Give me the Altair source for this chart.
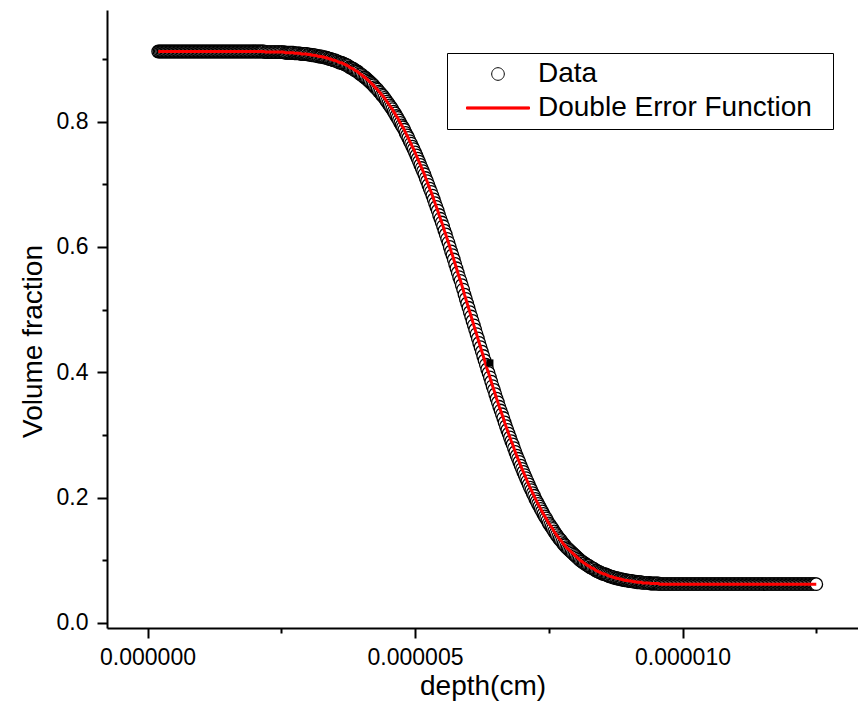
import altair as alt
import pandas as pd

# depth values in micro-units (x 1e-6 cm)
depth_um = [
    0.2, 0.225, 0.25, 0.275, 0.3, 0.325, 0.35, 0.375,
    0.4, 0.425, 0.45, 0.475, 0.5, 0.525, 0.55, 0.575,
    0.6, 0.625, 0.65, 0.675, 0.7, 0.725, 0.75, 0.775,
    0.8, 0.825, 0.85, 0.875, 0.9, 0.925, 0.95, 0.975,
    1.0, 1.025, 1.05, 1.075, 1.1, 1.125, 1.15, 1.175,
    1.2, 1.225, 1.25, 1.275, 1.3, 1.325, 1.35, 1.375,
    1.4, 1.425, 1.45, 1.475, 1.5, 1.525, 1.55, 1.575,
    1.6, 1.625, 1.65, 1.675, 1.7, 1.725, 1.75, 1.775,
    1.8, 1.825, 1.85, 1.875, 1.9, 1.925, 1.95, 1.975,
    2.0, 2.025, 2.05, 2.075, 2.1, 2.125, 2.15, 2.175,
    2.2, 2.225, 2.25, 2.275, 2.3, 2.325, 2.35, 2.375,
    2.4, 2.425, 2.45, 2.475, 2.5, 2.525, 2.55, 2.575,
    2.6, 2.625, 2.65, 2.675, 2.7, 2.725, 2.75, 2.775,
    2.8, 2.825, 2.85, 2.875, 2.9, 2.925, 2.95, 2.975,
    3.0, 3.025, 3.05, 3.075, 3.1, 3.125, 3.15, 3.175,
    3.2, 3.225, 3.25, 3.275, 3.3, 3.325, 3.35, 3.375,
    3.4, 3.425, 3.45, 3.475, 3.5, 3.525, 3.55, 3.575,
    3.6, 3.625, 3.65, 3.675, 3.7, 3.725, 3.75, 3.775,
    3.8, 3.825, 3.85, 3.875, 3.9, 3.925, 3.95, 3.975,
    4.0, 4.025, 4.05, 4.075, 4.1, 4.125, 4.15, 4.175,
    4.2, 4.225, 4.25, 4.275, 4.3, 4.325, 4.35, 4.375,
    4.4, 4.425, 4.45, 4.475, 4.5, 4.525, 4.55, 4.575,
    4.6, 4.625, 4.65, 4.675, 4.7, 4.725, 4.75, 4.775,
    4.8, 4.825, 4.85, 4.875, 4.9, 4.925, 4.95, 4.975,
    5.0, 5.025, 5.05, 5.075, 5.1, 5.125, 5.15, 5.175,
    5.2, 5.225, 5.25, 5.275, 5.3, 5.325, 5.35, 5.375,
    5.4, 5.425, 5.45, 5.475, 5.5, 5.525, 5.55, 5.575,
    5.6, 5.625, 5.65, 5.675, 5.7, 5.725, 5.75, 5.775,
    5.8, 5.825, 5.85, 5.875, 5.9, 5.925, 5.95, 5.975,
    6.0, 6.025, 6.05, 6.075, 6.1, 6.125, 6.15, 6.175,
    6.2, 6.225, 6.25, 6.275, 6.3, 6.325, 6.35, 6.375,
    6.4, 6.425, 6.45, 6.475, 6.5, 6.525, 6.55, 6.575,
    6.6, 6.625, 6.65, 6.675, 6.7, 6.725, 6.75, 6.775,
    6.8, 6.825, 6.85, 6.875, 6.9, 6.925, 6.95, 6.975,
    7.0, 7.025, 7.05, 7.075, 7.1, 7.125, 7.15, 7.175,
    7.2, 7.225, 7.25, 7.275, 7.3, 7.325, 7.35, 7.375,
    7.4, 7.425, 7.45, 7.475, 7.5, 7.525, 7.55, 7.575,
    7.6, 7.625, 7.65, 7.675, 7.7, 7.725, 7.75, 7.775,
    7.8, 7.825, 7.85, 7.875, 7.9, 7.925, 7.95, 7.975,
    8.0, 8.025, 8.05, 8.075, 8.1, 8.125, 8.15, 8.175,
    8.2, 8.225, 8.25, 8.275, 8.3, 8.325, 8.35, 8.375,
    8.4, 8.425, 8.45, 8.475, 8.5, 8.525, 8.55, 8.575,
    8.6, 8.625, 8.65, 8.675, 8.7, 8.725, 8.75, 8.775,
    8.8, 8.825, 8.85, 8.875, 8.9, 8.925, 8.95, 8.975,
    9.0, 9.025, 9.05, 9.075, 9.1, 9.125, 9.15, 9.175,
    9.2, 9.225, 9.25, 9.275, 9.3, 9.325, 9.35, 9.375,
    9.4, 9.425, 9.45, 9.475, 9.5, 9.525, 9.55, 9.575,
    9.6, 9.625, 9.65, 9.675, 9.7, 9.725, 9.75, 9.775,
    9.8, 9.825, 9.85, 9.875, 9.9, 9.925, 9.95, 9.975,
    10.0, 10.025, 10.05, 10.075, 10.1, 10.125, 10.15, 10.175,
    10.2, 10.225, 10.25, 10.275, 10.3, 10.325, 10.35, 10.375,
    10.4, 10.425, 10.45, 10.475, 10.5, 10.525, 10.55, 10.575,
    10.6, 10.625, 10.65, 10.675, 10.7, 10.725, 10.75, 10.775,
    10.8, 10.825, 10.85, 10.875, 10.9, 10.925, 10.95, 10.975,
    11.0, 11.025, 11.05, 11.075, 11.1, 11.125, 11.15, 11.175,
    11.2, 11.225, 11.25, 11.275, 11.3, 11.325, 11.35, 11.375,
    11.4, 11.425, 11.45, 11.475, 11.5, 11.525, 11.55, 11.575,
    11.6, 11.625, 11.65, 11.675, 11.7, 11.725, 11.75, 11.775,
    11.8, 11.825, 11.85, 11.875, 11.9, 11.925, 11.95, 11.975,
    12.0, 12.025, 12.05, 12.075, 12.1, 12.125, 12.15, 12.175,
    12.2, 12.225, 12.25, 12.275, 12.3, 12.325, 12.35, 12.375,
    12.4, 12.425, 12.45, 12.475, 12.5,
]
volume_fraction = [
    0.912, 0.912, 0.912, 0.912, 0.912, 0.912, 0.912, 0.912,
    0.912, 0.912, 0.912, 0.912, 0.912, 0.912, 0.912, 0.912,
    0.912, 0.912, 0.912, 0.912, 0.912, 0.912, 0.912, 0.912,
    0.912, 0.912, 0.912, 0.912, 0.912, 0.912, 0.912, 0.912,
    0.912, 0.912, 0.912, 0.912, 0.912, 0.912, 0.912, 0.912,
    0.912, 0.912, 0.912, 0.912, 0.912, 0.912, 0.912, 0.912,
    0.912, 0.912, 0.912, 0.912, 0.912, 0.912, 0.912, 0.912,
    0.912, 0.912, 0.912, 0.912, 0.912, 0.912, 0.912, 0.912,
    0.912, 0.912, 0.912, 0.912, 0.912, 0.912, 0.912, 0.912,
    0.912, 0.912, 0.912, 0.912, 0.912, 0.912, 0.912, 0.912,
    0.911, 0.911, 0.911, 0.911, 0.911, 0.911, 0.911, 0.911,
    0.911, 0.911, 0.911, 0.911, 0.911, 0.911, 0.911, 0.910,
    0.910, 0.910, 0.910, 0.910, 0.910, 0.910, 0.909, 0.909,
    0.909, 0.909, 0.909, 0.908, 0.908, 0.908, 0.908, 0.908,
    0.907, 0.907, 0.907, 0.906, 0.906, 0.906, 0.905, 0.905,
    0.904, 0.904, 0.904, 0.903, 0.903, 0.902, 0.902, 0.901,
    0.900, 0.900, 0.899, 0.898, 0.898, 0.897, 0.896, 0.895,
    0.894, 0.894, 0.893, 0.892, 0.891, 0.890, 0.889, 0.887,
    0.886, 0.885, 0.884, 0.882, 0.881, 0.880, 0.878, 0.876,
    0.875, 0.873, 0.871, 0.870, 0.868, 0.866, 0.864, 0.862,
    0.860, 0.858, 0.855, 0.853, 0.851, 0.848, 0.846, 0.843,
    0.841, 0.838, 0.835, 0.832, 0.829, 0.826, 0.823, 0.820,
    0.816, 0.813, 0.809, 0.806, 0.802, 0.798, 0.794, 0.791,
    0.787, 0.782, 0.778, 0.774, 0.769, 0.765, 0.760, 0.756,
    0.751, 0.746, 0.741, 0.736, 0.731, 0.726, 0.721, 0.716,
    0.710, 0.705, 0.699, 0.693, 0.688, 0.682, 0.676, 0.670,
    0.664, 0.658, 0.651, 0.645, 0.639, 0.633, 0.626, 0.620,
    0.613, 0.607, 0.600, 0.593, 0.587, 0.580, 0.573, 0.566,
    0.559, 0.552, 0.546, 0.539, 0.532, 0.524, 0.517, 0.510,
    0.503, 0.496, 0.489, 0.482, 0.475, 0.468, 0.461, 0.454,
    0.447, 0.440, 0.433, 0.426, 0.419, 0.412, 0.405, 0.399,
    0.392, 0.385, 0.378, 0.372, 0.365, 0.358, 0.352, 0.345,
    0.339, 0.333, 0.327, 0.320, 0.314, 0.308, 0.302, 0.296,
    0.290, 0.285, 0.279, 0.273, 0.267, 0.262, 0.257, 0.251,
    0.246, 0.241, 0.236, 0.231, 0.226, 0.221, 0.216, 0.212,
    0.207, 0.203, 0.198, 0.194, 0.190, 0.186, 0.182, 0.178,
    0.174, 0.170, 0.167, 0.163, 0.159, 0.156, 0.153, 0.150,
    0.146, 0.143, 0.140, 0.137, 0.134, 0.132, 0.129, 0.126,
    0.124, 0.121, 0.119, 0.117, 0.115, 0.113, 0.111, 0.109,
    0.107, 0.105, 0.103, 0.101, 0.099, 0.098, 0.096, 0.095,
    0.093, 0.092, 0.091, 0.089, 0.088, 0.087, 0.086, 0.084,
    0.083, 0.082, 0.081, 0.080, 0.079, 0.078, 0.078, 0.077,
    0.076, 0.075, 0.074, 0.074, 0.073, 0.072, 0.072, 0.071,
    0.071, 0.070, 0.070, 0.069, 0.069, 0.068, 0.068, 0.068,
    0.067, 0.067, 0.067, 0.066, 0.066, 0.066, 0.065, 0.065,
    0.065, 0.065, 0.064, 0.064, 0.064, 0.064, 0.064, 0.064,
    0.063, 0.063, 0.063, 0.063, 0.063, 0.063, 0.063, 0.062,
    0.062, 0.062, 0.062, 0.062, 0.062, 0.062, 0.062, 0.062,
    0.062, 0.062, 0.062, 0.062, 0.062, 0.062, 0.062, 0.062,
    0.062, 0.062, 0.062, 0.062, 0.062, 0.062, 0.062, 0.062,
    0.062, 0.062, 0.062, 0.062, 0.062, 0.062, 0.062, 0.062,
    0.062, 0.062, 0.062, 0.062, 0.062, 0.062, 0.062, 0.062,
    0.062, 0.062, 0.062, 0.062, 0.062, 0.062, 0.062, 0.062,
    0.062, 0.062, 0.062, 0.062, 0.062, 0.062, 0.062, 0.062,
    0.062, 0.062, 0.062, 0.062, 0.062, 0.062, 0.062, 0.062,
    0.062, 0.062, 0.062, 0.062, 0.062, 0.062, 0.062, 0.062,
    0.062, 0.062, 0.062, 0.062, 0.062, 0.062, 0.062, 0.062,
    0.062, 0.062, 0.062, 0.062, 0.062, 0.062, 0.062, 0.062,
    0.062, 0.062, 0.062, 0.062, 0.062, 0.062, 0.062, 0.062,
    0.062, 0.062, 0.062, 0.062, 0.062, 0.062, 0.062, 0.062,
    0.062, 0.062, 0.062, 0.062, 0.062, 0.062, 0.062, 0.062,
    0.062, 0.062, 0.062, 0.062, 0.062,
]
series_names = ["Data", "Double Error Function"]
marker_depth_um = [6.40]
marker_value = [0.415]

x_ticks = [0.0, 2.5e-6, 5.0e-6, 7.5e-6, 1.0e-5, 1.25e-5]
y_ticks = [0.0, 0.1, 0.2, 0.3, 0.4, 0.5, 0.6, 0.7, 0.8, 0.9]

data_df = pd.DataFrame({
    "depth": [d * 1e-6 for d in depth_um],
    "vf": volume_fraction,
    "series": ["Data"] * len(depth_um),
})
marker_df = pd.DataFrame({
    "depth": [d * 1e-6 for d in marker_depth_um],
    "vf": marker_value,
})

FONT = "Liberation Sans"

x_scale = alt.Scale(domain=[-0.757e-6, 13.28e-6], nice=False, zero=False)
y_scale = alt.Scale(domain=[-0.008, 0.9782], nice=False, zero=False)

xmaj = "abs(datum.value/5e-6 - round(datum.value/5e-6)) < 1e-6"
ymaj = "abs(datum.value*5 - round(datum.value*5)) < 1e-6"

x_axis = alt.Axis(
    values=x_ticks,
    title="depth(cm)",
    labelExpr=f"{xmaj} ? format(datum.value, '.6f') : ''",
    tickSize={"condition": {"test": xmaj, "value": 10}, "value": 5},
    labelFlush=False,
    labelOverlap=False,
    labelPadding=8,
    titleBaseline="alphabetic",
    titleY=66,
)
y_axis = alt.Axis(
    values=y_ticks,
    title="Volume fraction",
    labelExpr=f"{ymaj} ? format(datum.value, '.1f') : ''",
    tickSize={"condition": {"test": ymaj, "value": 10}, "value": 5},
    labelOverlap=False,
    labelPadding=9,
    titleBaseline="alphabetic",
    titleX=-66,
    titleY=331,
    titleAngle=-90,
)

circle_path = ("M0.2,0 C0.2,0.11046 0.11046,0.2 0,0.2 C-0.11046,0.2 -0.2,0.11046 -0.2,0 "
               "C-0.2,-0.11046 -0.11046,-0.2 0,-0.2 C0.11046,-0.2 0.2,-0.11046 0.2,0 Z")
line_path = "M-1,-0.035H1V0.035H-1Z"

legend = alt.Legend(
    title=None,
    orient="none",
    legendX=340,
    legendY=43,
    direction="vertical",
    strokeColor="black",
    fillColor="white",
    padding=4,
    cornerRadius=0,
    symbolSize=3969,
    symbolStrokeWidth=1,
    symbolOpacity=1,
    symbolOffset=15,
    labelOffset=8,
    clipHeight=34,
    rowPadding=0,
    labelFont=FONT,
    labelFontSize=28,
    labelColor="black",
    labelLimit=0,
    labelExpr="datum.label == 'Double Error Function' ? datum.label + '\u2009\u2009\u2009\u200b' : datum.label",
)

base = alt.Chart(data_df)

points = base.mark_point(filled=True, size=3969, strokeWidth=1.3, opacity=1).encode(
    x=alt.X("depth:Q", scale=x_scale, axis=x_axis),
    y=alt.Y("vf:Q", scale=y_scale, axis=y_axis),
    stroke=alt.Stroke("series:N", scale=alt.Scale(domain=series_names, range=["black", "red"]), legend=legend),
    fill=alt.Fill("series:N", scale=alt.Scale(domain=series_names, range=["white", "red"]), legend=legend),
    shape=alt.Shape("series:N", scale=alt.Scale(domain=series_names, range=[circle_path, line_path]), legend=legend),
)

fit_line = base.mark_line(color="red", strokeWidth=3).encode(
    x=alt.X("depth:Q", scale=x_scale),
    y=alt.Y("vf:Q", scale=y_scale),
)

marker = alt.Chart(marker_df).mark_point(shape="square", filled=True, color="black", size=50, opacity=1).encode(
    x=alt.X("depth:Q", scale=x_scale),
    y=alt.Y("vf:Q", scale=y_scale),
)

chart = alt.layer(points, fit_line, marker).properties(
    width=751,
    height=618,
    padding={"left": 107, "top": 10, "right": 0, "bottom": 96},
    autosize=alt.AutoSizeParams(type="none"),
    background="white",
).configure_view(
    stroke=None,
).configure_axis(
    domainColor="black",
    domainWidth=2,
    tickColor="black",
    tickWidth=2,
    grid=False,
    labelFont=FONT,
    labelFontSize=23,
    labelColor="black",
    titleFont=FONT,
    titleFontSize=28,
    titleFontWeight="normal",
    titleColor="black",
)

chart.save("out.html", embed_options={"renderer": "svg", "actions": False})
